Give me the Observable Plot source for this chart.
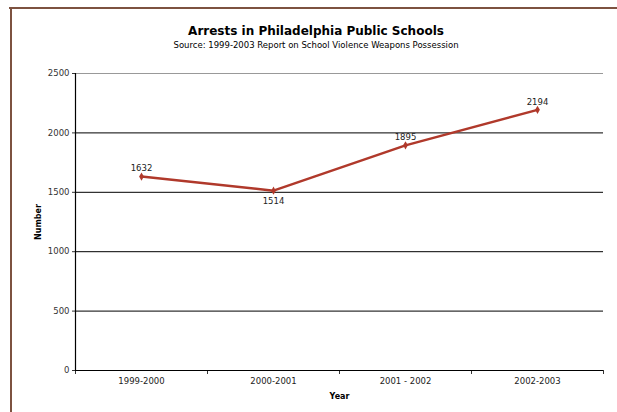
<!DOCTYPE html>
<html><head><meta charset="utf-8">
<script src="https://cdn.jsdelivr.net/npm/d3@7"></script>
<script src="https://cdn.jsdelivr.net/npm/@observablehq/plot@0.6"></script>
<style>
html,body{margin:0;padding:0;background:#fff;}
#wrap{position:relative;width:617px;height:412px;overflow:hidden;font-family:"DejaVu Sans",Verdana,sans-serif;}
#bt{position:absolute;left:9px;top:7px;width:620px;height:2px;background:#7d5240;}
#bl{position:absolute;left:10px;top:7px;width:2px;height:420px;background:#7d5240;}
#title{position:absolute;left:0;width:632px;top:24px;text-align:center;font-weight:bold;font-size:12px;color:#000;}
#sub{position:absolute;left:0;width:632px;top:40px;text-align:center;font-size:8.5px;color:#000;}
#chart{position:absolute;left:0;top:0;}
</style></head>
<body><div id="wrap"><div id="chart"></div><div id="bt"></div><div id="bl"></div>
<div id="title">Arrests in Philadelphia Public Schools</div>
<div id="sub">Source: 1999-2003 Report on School Violence Weapons Possession</div></div>
<script>
const years = ["1999-2000", "2000-2001", "2001 - 2002", "2002-2003"];
const arrests = [1632, 1514, 1895, 2194];
const yTicks = [0, 500, 1000, 1500, 2000, 2500];

const data = years.map((y, i) => ({i: i + 0.5, year: y, v: arrests[i],
  below: (i > 0 && i < arrests.length - 1 && arrests[i] < arrests[i-1] && arrests[i] < arrests[i+1])}));
const lineColor = "#b0392b";

const chart = Plot.plot({
  width: 617, height: 412,
  marginTop: 73, marginBottom: 42, marginLeft: 75, marginRight: 14,
  style: {fontFamily: "'DejaVu Sans', Verdana, sans-serif", fontSize: "8.5px", color: "#333", background: "transparent"},
  x: {domain: [0, years.length], ticks: d3.range(0, years.length + 1), tickFormat: () => "", tickSize: 4, label: null},
  y: {domain: [0, 2500], ticks: yTicks, tickFormat: d => String(d), tickSize: 3, tickPadding: 3, label: null},
  marks: [
    Plot.ruleY(yTicks.filter(t => t > 0 && t < 2500), {stroke: "#000", strokeWidth: 1}),
    Plot.ruleY([2500], {stroke: "#999", strokeWidth: 1}),
    Plot.ruleY([0], {stroke: "#000", strokeWidth: 1.2}),
    Plot.ruleX([0], {stroke: "#000", strokeWidth: 1.2}),
    Plot.line(data, {x: "i", y: "v", stroke: lineColor, strokeWidth: 2.5}),
    Plot.dot(data, {x: "i", y: "v", symbol: "diamond", r: 2.5, fill: lineColor}),
    Plot.text(data.filter(d => !d.below), {x: "i", y: "v", text: d => String(d.v), dy: -8, fill: "#222", fontSize: 8.5}),
    Plot.text(data.filter(d => d.below), {x: "i", y: "v", text: d => String(d.v), dy: 11, fill: "#222", fontSize: 8.5}),
    Plot.text(data, {x: "i", text: "year", frameAnchor: "bottom", dy: 13, fill: "#222", fontSize: 8.5}),
    Plot.text(["Number"], {frameAnchor: "left", textAnchor: "middle", dx: -37, rotate: -90, text: d => d, fontWeight: "bold", fontSize: 8, fill: "#000"}),
    Plot.text(["Year"], {frameAnchor: "bottom", dy: 28, text: d => d, fontWeight: "bold", fontSize: 8, fill: "#000"})
  ]
});
document.getElementById("chart").appendChild(chart);
</script></body></html>
